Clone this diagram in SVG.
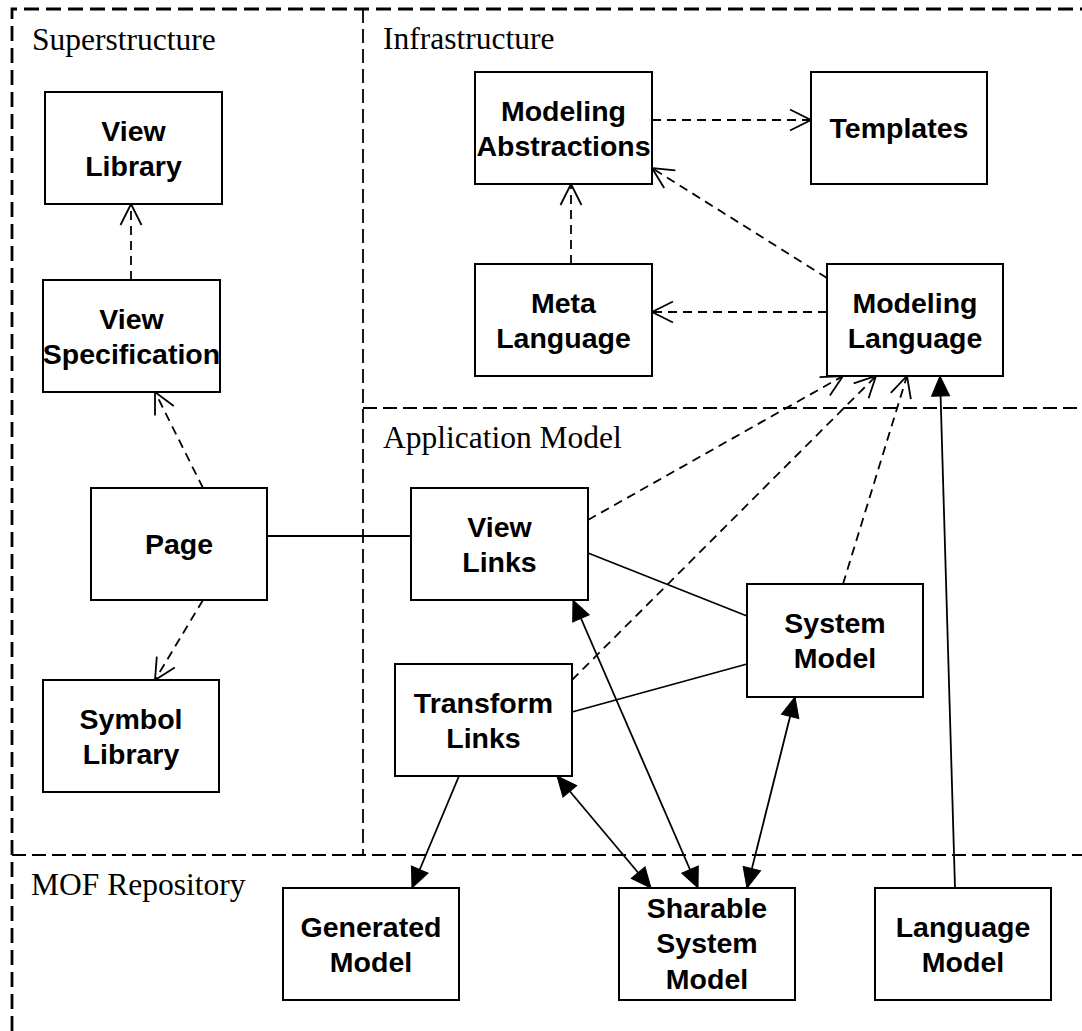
<svg xmlns="http://www.w3.org/2000/svg" width="1082" height="1031" viewBox="0 0 1082 1031">
  <style>
    .frame { fill: none; stroke: #000; stroke-width: 2.8; stroke-dasharray: 15 7; }
    .divider { fill: none; stroke: #000; stroke-width: 1.8; stroke-dasharray: 14 6; }
    .region { font-family: "Liberation Serif", "Times New Roman", serif; font-size: 31.5px; fill: #000; }
    .node rect { fill: #fff; stroke: #000; stroke-width: 2; }
    .node text { font-family: "Liberation Sans", Arial, sans-serif; font-weight: bold; font-size: 28.5px; fill: #000; text-anchor: middle; }
    .dep { fill: none; stroke: #000; stroke-width: 1.8; stroke-dasharray: 9 6; marker-end: url(#open); }
    .assoc { fill: none; stroke: #000; stroke-width: 1.8; }
    .nav { fill: none; stroke: #000; stroke-width: 1.8; marker-end: url(#solid); }
    .nav2 { fill: none; stroke: #000; stroke-width: 1.8; marker-start: url(#solid); marker-end: url(#solid); }
  </style>
  <defs>
    <marker id="open" markerUnits="userSpaceOnUse" orient="auto" refX="0" refY="0" markerWidth="30" markerHeight="30" overflow="visible">
      <path d="M-21,-10.5 L0,0 L-21,10.5" fill="none" stroke="#000" stroke-width="1.8"/>
    </marker>
    <marker id="solid" markerUnits="userSpaceOnUse" orient="auto-start-reverse" refX="0" refY="0" markerWidth="30" markerHeight="30" overflow="visible">
      <path d="M-20,-9 L0,0 L-20,9 Z" fill="#000" stroke="#000" stroke-width="1"/>
    </marker>
  </defs>

  <rect width="1082" height="1031" fill="#fff"/>

  <!-- package frames -->
  <g id="regions">
    <path class="frame" d="M12,1031 L12,9 L1082,9"/>
    <line class="divider" x1="363" y1="9" x2="363" y2="855"/>
    <line class="divider" x1="363" y1="408" x2="1082" y2="408"/>
    <line class="divider" x1="12" y1="855" x2="1082" y2="855"/>
    <text class="region" x="32" y="50">Superstructure</text>
    <text class="region" x="383" y="49">Infrastructure</text>
    <text class="region" x="383" y="448">Application Model</text>
    <text class="region" x="31" y="895">MOF Repository</text>
  </g>

  <!-- connectors -->
  <g id="connectors">
    <line class="dep" x1="131" y1="280" x2="131" y2="204"/>
    <line class="dep" x1="203" y1="488" x2="155" y2="392"/>
    <line class="dep" x1="203" y1="600" x2="155" y2="680"/>
    <line class="dep" x1="652" y1="120" x2="811" y2="120"/>
    <line class="dep" x1="571" y1="264" x2="571" y2="184"/>
    <line class="dep" x1="827" y1="278" x2="652" y2="168"/>
    <line class="dep" x1="827" y1="312" x2="652" y2="312"/>
    <line class="dep" x1="588" y1="520" x2="843" y2="376"/>
    <line class="dep" x1="572" y1="680" x2="876" y2="376"/>
    <line class="dep" x1="843" y1="584" x2="907" y2="376"/>

    <line class="assoc" x1="267" y1="536" x2="411" y2="536"/>
    <line class="assoc" x1="588" y1="553" x2="747" y2="616"/>
    <line class="assoc" x1="572" y1="712" x2="747" y2="664"/>

    <line class="nav" x1="955" y1="888" x2="940" y2="376"/>
    <line class="nav" x1="459" y1="776" x2="412" y2="888"/>

    <line class="nav2" x1="573" y1="600" x2="698" y2="888"/>
    <line class="nav2" x1="557" y1="776" x2="651" y2="888"/>
    <line class="nav2" x1="795" y1="697" x2="747" y2="888"/>
  </g>

  <!-- Superstructure -->
  <g id="view-library" class="node">
    <rect x="45" y="92" width="177" height="112"/>
    <text x="133.5" y="141">View</text>
    <text x="133.5" y="176">Library</text>
  </g>
  <g id="view-specification" class="node">
    <rect x="43" y="280" width="177" height="112"/>
    <text x="131.5" y="329">View</text>
    <text x="131.5" y="364">Specification</text>
  </g>
  <g id="page" class="node">
    <rect x="91" y="488" width="176" height="112"/>
    <text x="179" y="554">Page</text>
  </g>
  <g id="symbol-library" class="node">
    <rect x="43" y="680" width="176" height="112"/>
    <text x="131" y="729">Symbol</text>
    <text x="131" y="764">Library</text>
  </g>

  <!-- Infrastructure -->
  <g id="modeling-abstractions" class="node">
    <rect x="475" y="72" width="177" height="112"/>
    <text x="563.5" y="121">Modeling</text>
    <text x="563.5" y="156">Abstractions</text>
  </g>
  <g id="templates" class="node">
    <rect x="811" y="72" width="176" height="112"/>
    <text x="899" y="138">Templates</text>
  </g>
  <g id="meta-language" class="node">
    <rect x="475" y="264" width="177" height="112"/>
    <text x="563.5" y="313">Meta</text>
    <text x="563.5" y="348">Language</text>
  </g>
  <g id="modeling-language" class="node">
    <rect x="827" y="264" width="176" height="112"/>
    <text x="915" y="313">Modeling</text>
    <text x="915" y="348">Language</text>
  </g>

  <!-- Application Model -->
  <g id="view-links" class="node">
    <rect x="411" y="488" width="177" height="112"/>
    <text x="499.5" y="537">View</text>
    <text x="499.5" y="572">Links</text>
  </g>
  <g id="transform-links" class="node">
    <rect x="395" y="664" width="177" height="112"/>
    <text x="483.5" y="713">Transform</text>
    <text x="483.5" y="748">Links</text>
  </g>
  <g id="system-model" class="node">
    <rect x="747" y="584" width="176" height="113"/>
    <text x="835" y="633">System</text>
    <text x="835" y="668">Model</text>
  </g>

  <!-- MOF Repository -->
  <g id="generated-model" class="node">
    <rect x="283" y="888" width="176" height="112"/>
    <text x="371" y="937">Generated</text>
    <text x="371" y="972">Model</text>
  </g>
  <g id="sharable-system-model" class="node">
    <rect x="619" y="888" width="176" height="112"/>
    <text x="707" y="918">Sharable</text>
    <text x="707" y="953">System</text>
    <text x="707" y="989">Model</text>
  </g>
  <g id="language-model" class="node">
    <rect x="875" y="888" width="176" height="112"/>
    <text x="963" y="937">Language</text>
    <text x="963" y="972">Model</text>
  </g>
</svg>
